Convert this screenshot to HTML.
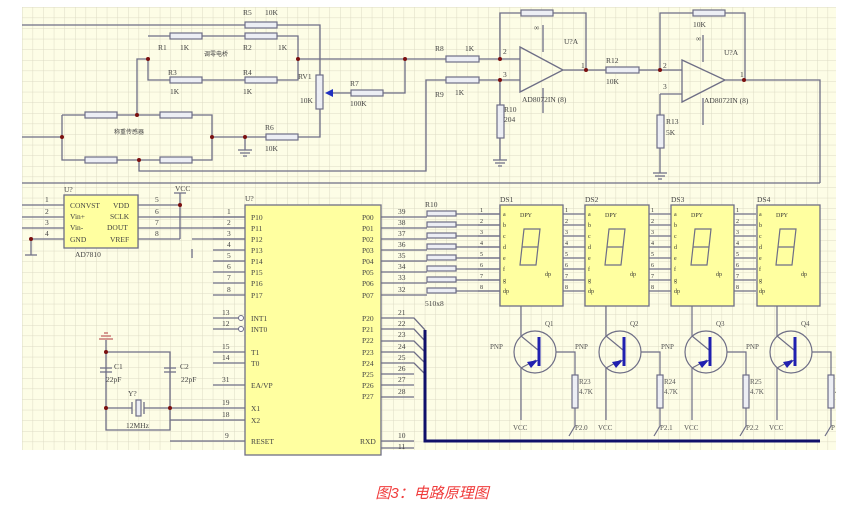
<!DOCTYPE html>
<html><head><meta charset="utf-8"><style>
html,body{margin:0;padding:0;background:#fff;width:864px;height:510px;overflow:hidden}
svg{position:absolute;left:0;top:0}
.cap{position:absolute;left:0;width:864px;top:482px;text-align:center;color:#f03c3c;font:italic 15px "Liberation Sans","Noto Sans CJK SC",sans-serif}
</style></head><body>
<svg width="864" height="510" viewBox="0 0 864 510" font-family="Liberation Serif, serif">
<defs>
<pattern id="g" x="22" y="7" width="10.6" height="10.6" patternUnits="userSpaceOnUse">
<path d="M0 0H10.6M0 0V10.6" stroke="#dcdac4" stroke-width="1" fill="none"/>
</pattern>
</defs>
<rect x="22" y="7" width="814" height="443" fill="#fdfde6"/>
<rect x="22" y="7" width="814" height="443" fill="url(#g)"/>
<g stroke="#6e6e86" stroke-width="1.3" fill="none">
<path d="M22 25H320V75M148 36H298V59M148 59V80H298V59M298 59H520M320 109V137H298M266 137H212M62 115H212V160H62V115M22 137H62M137 115V59H148M139 160V171H426V80H520M405 59V93H383M351 93H330"/>
<path d="M245 137V150M238 150H252M240 153H250M243 156H247"/>
<path d="M520 47L563 70L520 92Z M563 70H606M639 70H682M500 59V13H586V70M543 25V52M543 88V113M500 80V105M500 138V160M493 160H507M495 163H505M498 166H502"/>
<path d="M682 60L725 80L682 102Z M660 70V13H745V80M725 80H820V183M703 35V62M703 98V125M660 94H682M660 94V115M660 148V173M653 173H667M655 176H665M658 179H662"/>
<path d="M22 183H820"/>
<path d="M22 205H64M22 217H64M22 228H64M31 239H64M31 239V255M25 255H37M138 205H180M138 217H245M138 228H245M138 239H180M180 193V239M174 193H186M192 249V258M192 239H245"/>
<path d="M213 217H245M213 228H245M213 239H245M213 250H245M213 261H245M213 272H245M213 283H245M213 295H245M213 318H239M213 329H239M213 352H245M213 363H245M213 385H245M170 408H245M170 420H245M170 441H245"/>
<path d="M381 217H427M381 228H427M381 239H427M381 250H427M381 261H427M381 272H427M381 283H427M381 295H427M456 214H500M456 225H500M456 236H500M456 247H500M456 258H500M456 269H500M456 280H500M456 291H500"/>
<path d="M381 318H414L425 330M381 329H414L425 341M381 341H414L425 352M381 352H414L425 363M381 363H414L425 374M381 374H414M381 385H414M381 397H414M381 441H414M381 448H414"/>
<path d="M106 340V430H170V352H106M106 408H132M144 408H170M132 402V414M144 402V414M100 368H112M100 372H112M164 368H176M164 372H176"/>
<path d="M99 339H113M101 336H111M104 333H108" stroke="#c06060"/>
</g>
<g fill="#eceef4" stroke="#6e6e86" stroke-width="1.2">
<rect x="245" y="22" width="32" height="6"/><rect x="170" y="33" width="32" height="6"/><rect x="245" y="33" width="32" height="6"/>
<rect x="170" y="77" width="32" height="6"/><rect x="245" y="77" width="32" height="6"/><rect x="316" y="75" width="7" height="34"/>
<rect x="351" y="90" width="32" height="6"/><rect x="85" y="112" width="32" height="6"/><rect x="160" y="112" width="32" height="6"/>
<rect x="85" y="157" width="32" height="6"/><rect x="160" y="157" width="32" height="6"/><rect x="266" y="134" width="32" height="6"/>
<rect x="446" y="56" width="33" height="6"/><rect x="446" y="77" width="33" height="6"/><rect x="521" y="10" width="32" height="6"/>
<rect x="497" y="105" width="7" height="33"/><rect x="606" y="67" width="33" height="6"/><rect x="693" y="10" width="32" height="6"/>
<rect x="657" y="115" width="7" height="33"/>
<rect x="427" y="211" width="29" height="5"/><rect x="427" y="222" width="29" height="5"/><rect x="427" y="233" width="29" height="5"/><rect x="427" y="244" width="29" height="5"/>
<rect x="427" y="255" width="29" height="5"/><rect x="427" y="266" width="29" height="5"/><rect x="427" y="277" width="29" height="5"/><rect x="427" y="288" width="29" height="5"/>
<rect x="136" y="400" width="5" height="16"/>
</g>
<path d="M325 93L333 89V97Z" fill="#2030c0"/>
<g fill="#7a1010"><circle cx="148" cy="59" r="2"/><circle cx="298" cy="59" r="2"/><circle cx="405" cy="59" r="2"/><circle cx="137" cy="115" r="2"/><circle cx="139" cy="160" r="2"/><circle cx="62" cy="137" r="2"/><circle cx="212" cy="137" r="2"/><circle cx="245" cy="137" r="2"/><circle cx="500" cy="59" r="2"/><circle cx="500" cy="80" r="2"/><circle cx="586" cy="70" r="2"/><circle cx="660" cy="70" r="2"/><circle cx="744" cy="80" r="2"/><circle cx="180" cy="205" r="2"/><circle cx="31" cy="239" r="2"/><circle cx="106" cy="352" r="2"/><circle cx="106" cy="408" r="2"/><circle cx="170" cy="408" r="2"/></g>
<g fill="#ffffa0" stroke="#6e6e86" stroke-width="1.3">
<rect x="64" y="195" width="74" height="53"/><rect x="245" y="205" width="136" height="250"/>
<rect x="500" y="205" width="63" height="101"/><rect x="585" y="205" width="64" height="101"/><rect x="671" y="205" width="63" height="101"/><rect x="757" y="205" width="63" height="101"/>
</g>
<circle cx="241" cy="318" r="2.5" fill="#fff" stroke="#6e6e86"/><circle cx="241" cy="329" r="2.5" fill="#fff" stroke="#6e6e86"/>
<path d="M425 330V441H820" stroke="#10106a" stroke-width="3" fill="none"/>
<g id="d">
<g stroke="#6e6e86" stroke-width="1.2" fill="none">
<path d="M478 214H500M478 225H500M478 236H500M478 247H500M478 258H500M478 269H500M478 280H500M478 291H500"/>
<path d="M524 229H540L538 247H522ZM522 247H538L536 265H520Z"/>
<path d="M521 306V336L538 350M521 368L536 360M521 368V420M556 352H575V375M575 408V426L569 436"/>
<circle cx="535" cy="352" r="21"/>
<rect x="572" y="375" width="6" height="33" fill="#eceef4"/>
</g>
<path d="M539 337V366" stroke="#2020b0" stroke-width="3" fill="none"/>
<path d="M538 360L527 362L531 368Z" fill="#2020b0"/>
<g font-size="6" fill="#333"><text x="503" y="216">a</text><text x="503" y="227">b</text><text x="503" y="238">c</text><text x="503" y="249">d</text><text x="503" y="260">e</text><text x="503" y="271">f</text><text x="503" y="282">g</text><text x="503" y="293">dp</text><text x="520" y="217">DPY</text>
<text x="480" y="212">1</text><text x="480" y="223">2</text><text x="480" y="234">3</text><text x="480" y="245">4</text><text x="480" y="256">5</text><text x="480" y="267">6</text><text x="480" y="278">7</text><text x="480" y="289">8</text><text x="545" y="276">dp</text></g>
<g font-size="7" fill="#555"><text x="490" y="349">PNP</text><text x="513" y="430">VCC</text><text x="579" y="394">4.7K</text></g>
</g>
<use href="#d" x="85"/><use href="#d" x="171"/><use href="#d" x="256"/>
<g font-size="7" fill="#555">
<text x="545" y="326">Q1</text><text x="630" y="326">Q2</text><text x="716" y="326">Q3</text><text x="801" y="326">Q4</text>
<text x="579" y="384">R23</text><text x="664" y="384">R24</text><text x="750" y="384">R25</text>
<text x="575" y="430">P2.0</text><text x="660" y="430">P2.1</text><text x="746" y="430">P2.2</text><text x="831" y="430">P</text>
</g>
<g font-size="7.5" fill="#444">
<text x="243" y="15">R5</text><text x="265" y="15">10K</text><text x="158" y="50">R1</text><text x="180" y="50">1K</text><text x="243" y="50">R2</text><text x="278" y="50">1K</text>
<text x="204" y="56" font-size="6">调零电桥</text><text x="168" y="75">R3</text><text x="243" y="75">R4</text><text x="170" y="94">1K</text><text x="243" y="94">1K</text>
<text x="298" y="79">RV1</text><text x="300" y="103">10K</text><text x="350" y="86">R7</text><text x="350" y="106">100K</text>
<text x="114" y="134" font-size="6">称重传感器</text><text x="265" y="130">R6</text><text x="265" y="151">10K</text>
<text x="435" y="51">R8</text><text x="465" y="51">1K</text><text x="435" y="97">R9</text><text x="455" y="95">1K</text>
<text x="503" y="54">2</text><text x="503" y="77">3</text><text x="534" y="30">∞</text><text x="564" y="44">U?A</text><text x="581" y="68">1</text>
<text x="522" y="102">AD8072IN (8)</text><text x="504" y="112">R10</text><text x="504" y="122">204</text>
<text x="606" y="63">R12</text><text x="606" y="84">10K</text><text x="663" y="68">2</text><text x="663" y="89">3</text><text x="693" y="27">10K</text><text x="696" y="41">∞</text>
<text x="724" y="55">U?A</text><text x="740" y="77">1</text><text x="704" y="103">AD8072IN (8)</text><text x="666" y="124">R13</text><text x="666" y="135">5K</text>
<text x="64" y="192">U?</text><text x="175" y="191">VCC</text><text x="75" y="257">AD7810</text>
<text x="45" y="202">1</text><text x="45" y="214">2</text><text x="45" y="225">3</text><text x="45" y="236">4</text><text x="155" y="202">5</text><text x="155" y="214">6</text><text x="155" y="225">7</text><text x="155" y="236">8</text>
<text x="70" y="208">CONVST</text><text x="70" y="219">Vin+</text><text x="70" y="230">Vin-</text><text x="70" y="242">GND</text>
<text x="113" y="208">VDD</text><text x="110" y="219">SCLK</text><text x="107" y="230">DOUT</text><text x="110" y="242">VREF</text>
<text x="245" y="201">U?</text>
<text x="251" y="220">P10</text><text x="251" y="231">P11</text><text x="251" y="242">P12</text><text x="251" y="253">P13</text><text x="251" y="264">P14</text><text x="251" y="275">P15</text><text x="251" y="286">P16</text><text x="251" y="298">P17</text>
<text x="251" y="321">INT1</text><text x="251" y="332">INT0</text><text x="251" y="355">T1</text><text x="251" y="366">T0</text><text x="251" y="388">EA/VP</text><text x="251" y="411">X1</text><text x="251" y="423">X2</text><text x="251" y="444">RESET</text>
<text x="227" y="214">1</text><text x="227" y="225">2</text><text x="227" y="236">3</text><text x="227" y="247">4</text><text x="227" y="258">5</text><text x="227" y="269">6</text><text x="227" y="280">7</text><text x="227" y="292">8</text>
<text x="222" y="315">13</text><text x="222" y="326">12</text><text x="222" y="349">15</text><text x="222" y="360">14</text><text x="222" y="382">31</text><text x="222" y="405">19</text><text x="222" y="417">18</text><text x="225" y="438">9</text>
<text x="362" y="220">P00</text><text x="362" y="231">P01</text><text x="362" y="242">P02</text><text x="362" y="253">P03</text><text x="362" y="264">P04</text><text x="362" y="275">P05</text><text x="362" y="286">P06</text><text x="362" y="298">P07</text>
<text x="398" y="214">39</text><text x="398" y="225">38</text><text x="398" y="236">37</text><text x="398" y="247">36</text><text x="398" y="258">35</text><text x="398" y="269">34</text><text x="398" y="280">33</text><text x="398" y="292">32</text>
<text x="362" y="321">P20</text><text x="362" y="332">P21</text><text x="362" y="343">P22</text><text x="362" y="355">P23</text><text x="362" y="366">P24</text><text x="362" y="377">P25</text><text x="362" y="388">P26</text><text x="362" y="399">P27</text><text x="360" y="444">RXD</text>
<text x="398" y="315">21</text><text x="398" y="326">22</text><text x="398" y="337">23</text><text x="398" y="349">24</text><text x="398" y="360">25</text><text x="398" y="371">26</text><text x="398" y="382">27</text><text x="398" y="394">28</text><text x="398" y="438">10</text><text x="398" y="449">11</text>
<text x="425" y="207">R10</text><text x="425" y="306">510x8</text>
<text x="500" y="202">DS1</text><text x="585" y="202">DS2</text><text x="671" y="202">DS3</text><text x="757" y="202">DS4</text>
<text x="114" y="369">C1</text><text x="106" y="382">22pF</text><text x="180" y="369">C2</text><text x="181" y="382">22pF</text><text x="128" y="396">Y?</text><text x="126" y="428">12MHz</text>
</g>
<rect x="836" y="7" width="28" height="443" fill="#fff"/>
</svg>
<div class="cap">图3：电路原理图</div>
</body></html>
